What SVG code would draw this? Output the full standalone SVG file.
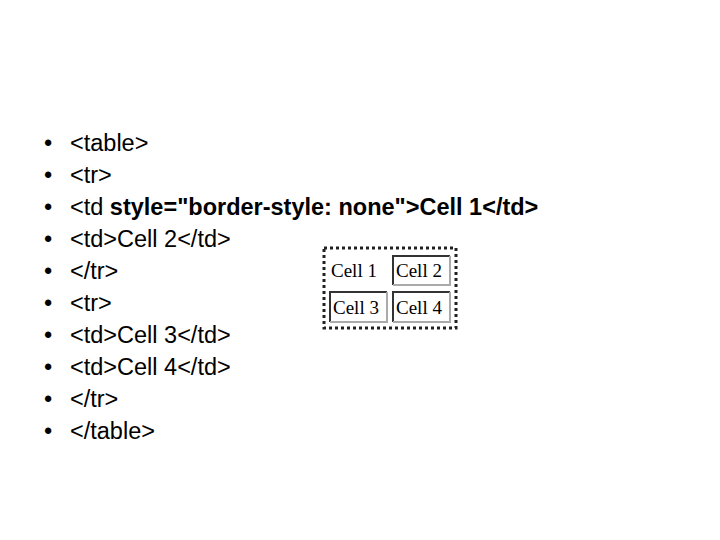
<svg xmlns="http://www.w3.org/2000/svg" width="720" height="540" viewBox="0 0 720 540">
<style>
.t{font-family:"Liberation Sans",Arial,sans-serif;font-size:23.5px;fill:#000}
.c{font-family:"Liberation Serif","Times New Roman",serif;font-size:19px;fill:#000}
.dk{stroke:#333;stroke-width:2;fill:none}
.lt{stroke:#aaa;stroke-width:2;fill:none}
</style>
<rect width="720" height="540" fill="#fff"/>
<g id="list" class="t">
<text x="44" y="151">•</text><text x="70" y="151">&lt;table&gt;</text>
<text x="44" y="183">•</text><text x="70" y="183">&lt;tr&gt;</text>
<text x="44" y="215">•</text><text x="70" y="215">&lt;td <tspan font-weight="bold">style="border-style: none"&gt;Cell 1&lt;/td&gt;</tspan></text>
<text x="44" y="247">•</text><text x="70" y="247">&lt;td&gt;Cell 2&lt;/td&gt;</text>
<text x="44" y="279">•</text><text x="70" y="279">&lt;/tr&gt;</text>
<text x="44" y="311">•</text><text x="70" y="311">&lt;tr&gt;</text>
<text x="44" y="343">•</text><text x="70" y="343">&lt;td&gt;Cell 3&lt;/td&gt;</text>
<text x="44" y="375">•</text><text x="70" y="375">&lt;td&gt;Cell 4&lt;/td&gt;</text>
<text x="44" y="407">•</text><text x="70" y="407">&lt;/tr&gt;</text>
<text x="44" y="439">•</text><text x="70" y="439">&lt;/table&gt;</text>
</g>
<g id="table">
<rect x="324" y="248" width="132" height="80" fill="none" stroke="#222" stroke-width="3" stroke-dasharray="3,3"/>
<text class="c" x="331" y="277">Cell 1</text>
<g id="cell2"><path class="dk" d="M393,285V256H450"/><path class="lt" d="M450,256V285H393"/><text class="c" x="396" y="277">Cell 2</text></g>
<g id="cell3"><path class="dk" d="M330,322V292H387"/><path class="lt" d="M387,292V322H330"/><text class="c" x="333" y="314">Cell 3</text></g>
<g id="cell4"><path class="dk" d="M393,322V292H450"/><path class="lt" d="M450,292V322H393"/><text class="c" x="396" y="314">Cell 4</text></g>
</g>
</svg>
